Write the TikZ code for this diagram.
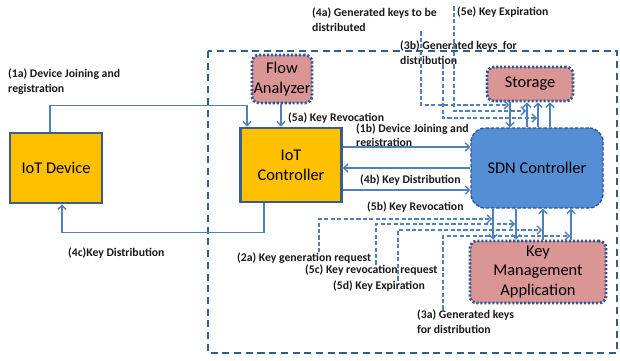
\documentclass[tikz,border=0pt]{standalone}
\usepackage{fontspec}
\setmainfont{Carlito}
\usetikzlibrary{arrows.meta}

\definecolor{ctlorange}{HTML}{FFC000}
\definecolor{ctlborder}{HTML}{3A5D8B}
\definecolor{apppink}{HTML}{D99694}
\definecolor{appborder}{HTML}{2F5597}
\definecolor{sdnblue}{HTML}{558ED5}
\definecolor{linkblue}{HTML}{4F81BD}
\definecolor{zoneblue}{HTML}{2E5F8E}

\begin{document}
\begin{tikzpicture}[x=0.03cm,y=-0.03cm,
    boxtext/.style={align=center,inner sep=0pt,font=\fontsize{14}{17}\selectfont},
    iotbox/.style={boxtext,draw=ctlborder,fill=ctlorange,line width=2.5pt},
    appbox/.style={boxtext,draw=appborder,fill=apppink,rounded corners=6pt,
      line width=2.4pt,dash pattern=on 1.8pt off 1.6pt},
    flow/.style={draw=linkblue,line width=1.2pt,-{Straight Barb[length=3.5pt,width=7pt]}},
    dflow/.style={flow,dash pattern=on 3.5pt off 2pt},
    lbl/.style={inner sep=0pt,anchor=west,align=left,text=black!90,font=\fontsize{10}{12.5}\selectfont\bfseries}]
  \useasboundingbox (0,0) rectangle (620,360);

  % controller zone
  \draw[zoneblue,line width=1.2pt,dash pattern=on 6pt off 4pt] (208,51) rectangle (617,353);

  \node[iotbox,minimum width=2.76cm,minimum height=2.1cm] (dev) at (56,168) {IoT Device};
  \node[iotbox,minimum width=3.03cm,minimum height=2.22cm] (ctl) at (291,165) {IoT\\Controller};
  \node[appbox,minimum width=1.8cm,minimum height=1.44cm] (fa) at (282,79) {Flow\\Analyzer};
  \node[appbox,minimum width=2.58cm,minimum height=1.02cm] (sto) at (530,84) {Storage};
  \node[appbox,minimum width=4.08cm,minimum height=1.86cm] (kma) at (538,272) {Key\\Management\\Application};
  \node[boxtext,draw=appborder,fill=sdnblue,rounded corners=12pt,line width=1.2pt,
    dash pattern=on 3pt off 1.5pt,minimum width=3.96cm,minimum height=2.4cm] (sdn) at (537,168) {SDN Controller};

  % labels
  \node[lbl] (l1a) at (8,81.5) {(1a) Device Joining and\\registration};
  \node[lbl] (l4c) at (68,253) {(4c)Key Distribution};
  \node[lbl] (l5a) at (288,118) {(5a) Key Revocation};
  \node[lbl] (l1b) at (356,136) {(1b) Device Joining and\\registration};
  \node[lbl] (l4b) at (360,180) {(4b) Key Distribution};
  \node[lbl] (l5b) at (367,207) {(5b) Key Revocation};
  \node[lbl] (l2a) at (237,258) {(2a) Key generation request};
  \node[lbl] (l5c) at (305,270) {(5c) Key revocation request};
  \node[lbl] (l5d) at (333,286) {(5d) Key Expiration};
  \node[lbl] (l3a) at (417,321.5) {(3a) Generated keys\\for distribution};
  \node[lbl] (l4a) at (312,19.5) {(4a) Generated keys to be\\distributed};
  \node[lbl] (l5e) at (457,12) {(5e) Key Expiration};
  \node[lbl] (l3b) at (400,52.5) {(3b) Generated keys\ \ for\\distribution};

  % device and IoT controller
  \draw[flow] (dev.north -| 50,0) -- ++(0,-26) -| (ctl.north -| 247,0);
  \draw[flow] (ctl.south -| 264,0) -- ++(0,29) -| (dev.south -| 62,0);
  \draw[flow] (fa.south -| 281,0) -- (ctl.north -| 281,0);

  % IoT controller and SDN controller
  \draw[flow] (ctl.east |- 0,147) -- (sdn.west |- 0,147);
  \draw[flow] (sdn.west |- 0,168) -- (ctl.east |- 0,168);
  \draw[flow] (ctl.east |- 0,190) -- (sdn.west |- 0,190);

  % SDN controller, storage and key management
  \draw[flow] (sto.south -| 510,0) -- (sdn.north -| 510,0);
  \foreach \x in {527,538,550}
    \draw[flow] (sdn.north -| \x,0) -- (sto.south -| \x,0);
  \foreach \x in {493,516}
    \draw[flow] (sdn.south -| \x,0) -- (kma.north -| \x,0);
  \foreach \x in {543,571}
    \draw[flow] (kma.north -| \x,0) -- (sdn.south -| \x,0);

  \coordinate (k4a) at (509,105);
  \coordinate (k5e) at (526,111);
  \coordinate (k3b) at (537,118);
  \draw[dflow] (l4a.south -| 421,0) |- (k4a);
  \draw[dflow] (l5e.north -| 454,0) |- (k5e);
  \draw[dflow] (l3b.south -| 443,0) |- (k3b);

  \coordinate (k2a) at (492,219);
  \coordinate (k5c) at (515,224);
  \coordinate (k5d) at (542,230);
  \coordinate (k3a) at (570,236);
  \draw[dflow] (l2a.north -| 319,0) |- (k2a);
  \draw[dflow] (l5c.north -| 376,0) |- (k5c);
  \draw[dflow] (l5d.north -| 398,0) |- (k5d);
  \draw[dflow] (l3a.north -| 443,0) |- (k3a);
\end{tikzpicture}
\end{document}
